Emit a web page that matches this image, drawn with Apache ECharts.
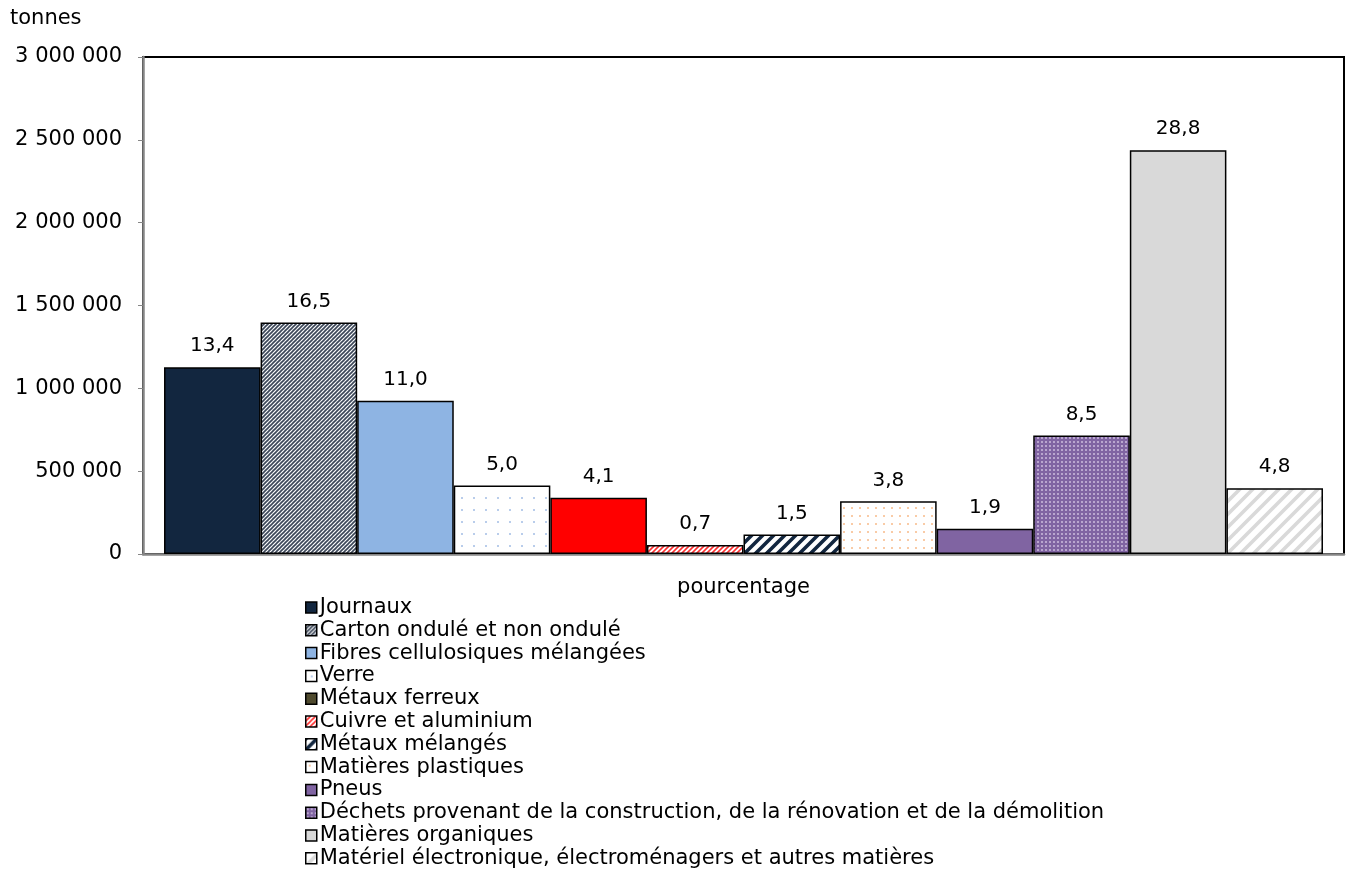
<!DOCTYPE html>
<html><head><meta charset="utf-8">
<script src="https://cdn.jsdelivr.net/npm/echarts@6/dist/echarts.min.js"></script>
<style>html,body{margin:0;padding:0;background:#fff}#c{width:1350px;height:872px}</style>
</head><body><div id="c"></div>
<script>
const categories = ['pourcentage'];
const seriesNames = ['Journaux','Carton ondulé et non ondulé','Fibres cellulosiques mélangées','Verre','Métaux ferreux','Cuivre et aluminium','Métaux mélangés','Matières plastiques','Pneus','Déchets provenant de la construction, de la rénovation et de la démolition','Matières organiques','Matériel électronique, électroménagers et autres matières'];
const tonnes = [1128000, 1397000, 925000, 413000, 340000, 55000, 118000, 318000, 153000, 716000, 2437000, 397000];
const percents = ['13,4','16,5','11,0','5,0','4,1','0,7','1,5','3,8','1,9','8,5','28,8','4,8'];
const yTicks = [0, 500000, 1000000, 1500000, 2000000, 2500000, 3000000];
const yTitle = 'tonnes';

function stripes(bg, fg, p, lw){
  const c=document.createElement('canvas'); c.width=p; c.height=p;
  const g=c.getContext('2d'); g.fillStyle=bg; g.fillRect(0,0,p,p);
  g.strokeStyle=fg; g.lineWidth=lw; g.lineCap='square';
  for(const o of [-p,0,p]){ g.beginPath(); g.moveTo(o,p); g.lineTo(o+p,0); g.stroke(); }
  return {image:c, repeat:'repeat'};
}
function dots(bg, fg, p, r){
  const c=document.createElement('canvas'); c.width=p; c.height=p;
  const g=c.getContext('2d'); g.fillStyle=bg; g.fillRect(0,0,p,p);
  g.fillStyle=fg; g.fillRect(p/2-r, p/2-r, 2*r, 2*r);
  return {image:c, repeat:'repeat'};
}
const fills = [
  '#12263F',
  stripes('#ffffff','#3B4658',4,1.7),
  '#8EB4E3',
  dots('#ffffff','#B9CDEB',12,1),
  '#FF0000',
  stripes('#ffffff','#FF3030',5,1.6),
  stripes('#ffffff','#12263F',11,3.6),
  dots('#ffffff','#F9CBA6',8,1),
  '#8064A2',
  dots('#8064A2','#D9CCE6',4,0.8),
  '#D9D9D9',
  stripes('#ffffff','#D9D9D9',13,3.6)
];
const legendColors = ['#12263F', null, '#8EB4E3', null, '#4F4A2E', null, null, null, '#8064A2', null, '#D9D9D9', null];

const FONT = 'DejaVu Sans';
const FS = 21;
const fmt = v => String(v).replace(/\B(?=(\d{3})+(?!\d))/g,' ');

const series = seriesNames.map((n,i)=>({
  name:n, type:'bar', data:[tonnes[i]],
  barGap:'0%', barCategoryGap:'3.5%',
  itemStyle:{color:fills[i], borderColor:'#000', borderWidth:1.5},
  label:{show:true, position:'top', distance:11, formatter:()=>percents[i], color:'#000', fontFamily:FONT, fontSize:20},
  emphasis:{disabled:true}
}));

const chart = echarts.init(document.getElementById('c'));
chart.setOption({
  animation:false,
  graphic:[{type:'text', left:10, top:8, style:{text:yTitle, fill:'#000', font:FS+'px "'+FONT+'"'}}],
  grid:{left:143, right:6, top:57, bottom:318, show:true, borderColor:'#000', borderWidth:2, outerBoundsMode:'none', containLabel:false},
  xAxis:{type:'category', data:categories,
    axisLine:{lineStyle:{color:'#868686', width:2.5}}, axisTick:{show:false},
    axisLabel:{color:'#000', fontFamily:FONT, fontSize:FS, margin:23}},
  yAxis:{type:'value', min:yTicks[0], max:yTicks[yTicks.length-1], interval:yTicks[1]-yTicks[0],
    axisLine:{show:true, lineStyle:{color:'#868686', width:2.5}},
    axisTick:{show:true, length:5, lineStyle:{color:'#868686'}},
    splitLine:{show:false},
    axisLabel:{color:'#000', fontFamily:FONT, fontSize:FS, margin:21, formatter:v=>fmt(v)}},
  legend:{orient:'vertical', left:305, top:597, padding:0, itemWidth:11, itemHeight:11, itemGap:1.8, icon:'rect',
    textStyle:{color:'#000', fontFamily:FONT, fontSize:FS, lineHeight:20, padding:[0,0,0,-2]},
    selectedMode:false,
    data:seriesNames.map((n,i)=>legendColors[i]?{name:n, itemStyle:{color:legendColors[i], borderColor:'#000', borderWidth:1.5}}:{name:n, itemStyle:{borderColor:'#000', borderWidth:1.5}})},
  series
});
</script></body></html>
